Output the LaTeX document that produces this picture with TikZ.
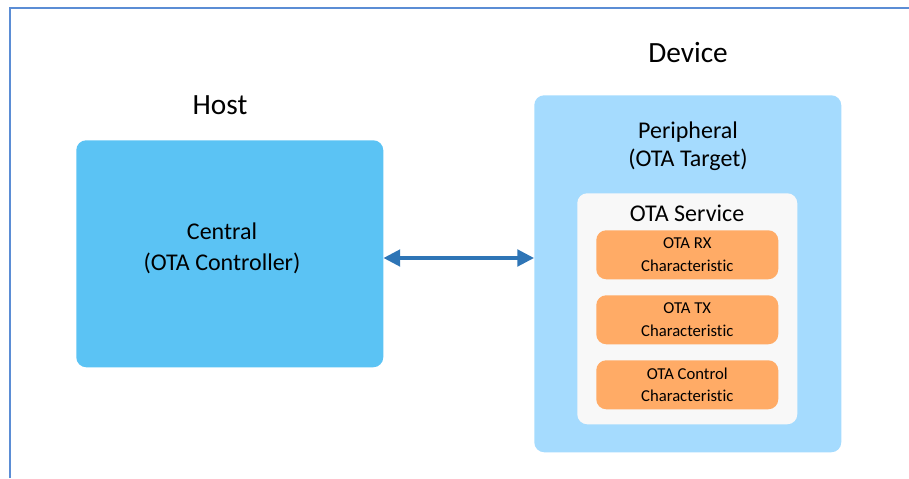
\documentclass[tikz,border=0pt]{standalone}
\usepackage{fontspec}
\setmainfont[Ligatures={NoCommon}]{Carlito}
\usetikzlibrary{arrows.meta}
\definecolor{hostblue}{RGB}{91,195,244}
\definecolor{devblue}{RGB}{165,219,254}
\definecolor{srvgray}{RGB}{248,248,248}
\definecolor{charorange}{RGB}{255,171,102}
\definecolor{linkblue}{RGB}{46,117,182}
\definecolor{frameblue}{RGB}{91,141,213}

\begin{document}
\begin{tikzpicture}[x=0.75pt,y=-0.75pt,
    box/.style={rounded corners=7.5pt, inner sep=0pt, anchor=north west},
    charbox/.style={box, fill=charorange, minimum width=136.5pt, minimum height=36.75pt,
        align=center, font=\fontsize{12.5}{17}\selectfont},
    title/.style={font=\fontsize{22}{26}\selectfont},
    label/.style={align=center, font=\fontsize{18}{23}\selectfont},
    link/.style={{Triangle[length=12.5pt,width=12.5pt]}-{Triangle[length=12.5pt,width=12.5pt]},
        line width=2.3pt, color=linkblue}]

    \useasboundingbox (0,0) rectangle (909,478);
    \draw[frameblue, line width=1.1pt] (10,478) -- (10,8) -- (909,8);

    % host side
    \node[title] (hosttitle) at (220,105) {Host};
    \node[box, fill=hostblue, minimum width=230.25pt, minimum height=170.25pt] (host) at (76,140) {};
    \node[label] (central) at (222,248) {Central\\(OTA Controller)};

    % device side
    \node[title] (devtitle) at (688,53) {Device};
    \node[box, fill=devblue, minimum width=230.25pt, minimum height=267.75pt] (device) at (534,95) {};
    \node[label, font=\fontsize{18}{21}\selectfont] (periph) at (688,146) {Peripheral\\(OTA Target)};
    \node[box, fill=srvgray, minimum width=165pt, minimum height=173.25pt] (service) at (577,193) {};
    \node[label] (srvtitle) at (687,213) {OTA Service};

    \foreach \y/\name/\txt in {230/rx/OTA RX, 295/tx/OTA TX, 360/ctrl/OTA Control}
        \node[charbox] (\name) at (596,\y) {\txt\\Characteristic};

    \draw[link] (host.east |- 0,258) -- (device.west |- 0,258);

\end{tikzpicture}
\end{document}
